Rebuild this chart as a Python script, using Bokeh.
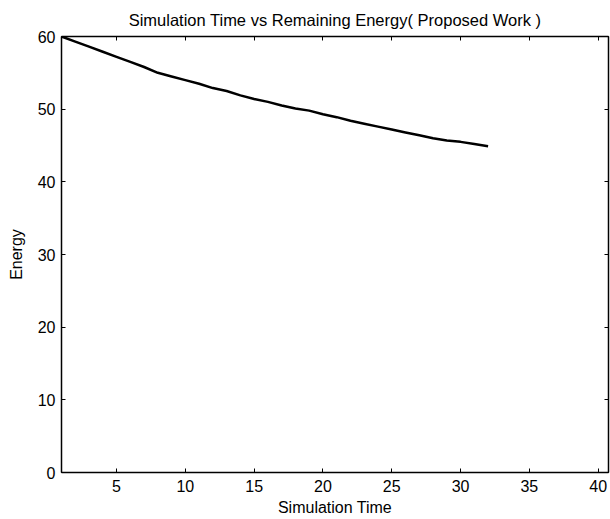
from bokeh.plotting import figure
from bokeh.models import LinearAxis, FixedTicker, Title
from bokeh.embed import file_html
from bokeh.resources import INLINE

# Data
sim_time = list(range(1, 33))
energy = [60.0, 59.3, 58.6, 57.9, 57.2, 56.5, 55.8, 55.0, 54.5, 54.0,
          53.5, 52.9, 52.5, 51.9, 51.4, 51.0, 50.5, 50.1, 49.8, 49.3,
          48.9, 48.4, 48.0, 47.6, 47.2, 46.8, 46.4, 46.0, 45.7, 45.5,
          45.2, 44.9]
x_ticks = [5, 10, 15, 20, 25, 30, 35, 40]
y_ticks = [0, 10, 20, 30, 40, 50, 60]

FONT = "Liberation Sans"
FS = "16px"

p = figure(width=610, height=519, x_range=(1, 40.75), y_range=(0, 60),
           output_backend="svg", toolbar_location=None,
           min_border_left=61, min_border_right=2, min_border_top=36,
           min_border_bottom=47)
p.title = None

p.line(sim_time, energy, line_color="black", line_width=2.5)

p.xgrid.grid_line_color = None
p.ygrid.grid_line_color = None
p.outline_line_color = "black"
p.outline_line_width = 1
p.background_fill_color = "white"
p.border_fill_color = "white"

def style(ax, ticks, labels=True):
    ax.ticker = FixedTicker(ticks=ticks)
    ax.major_tick_in = 4
    ax.major_tick_out = 0
    ax.minor_tick_line_color = None
    ax.axis_line_color = "black"
    ax.axis_line_width = 1.5
    ax.major_tick_line_color = "black"
    ax.major_tick_line_width = 1
    if labels:
        ax.major_label_text_font = FONT
        ax.major_label_text_font_size = FS
        ax.major_label_text_color = "black"
        ax.axis_label_text_font = FONT
        ax.axis_label_text_font_size = FS
        ax.axis_label_text_font_style = "normal"
        ax.axis_label_text_color = "black"
    else:
        ax.major_label_overrides = {t: "" for t in ticks}
        ax.major_label_standoff = 0

style(p.xaxis[0], x_ticks)
style(p.yaxis[0], y_ticks)
p.xaxis[0].axis_label = "Simulation Time"
p.yaxis[0].axis_label = "Energy"
p.xaxis[0].major_label_standoff = 7
p.yaxis[0].major_label_standoff = 6
p.xaxis[0].axis_label_standoff = 4
p.yaxis[0].axis_label_standoff = 10

top = LinearAxis()
right = LinearAxis()
style(top, x_ticks, labels=False)
style(right, y_ticks, labels=False)
p.add_layout(top, "above")
p.add_layout(right, "right")

p.add_layout(Title(text="Simulation Time vs Remaining Energy( Proposed Work )",
                   align="center", text_font=FONT, text_font_size="16.5px",
                   text_font_style="normal", text_color="black",
                   standoff=15), "above")

open("out.html", "w").write(file_html(p, INLINE))
